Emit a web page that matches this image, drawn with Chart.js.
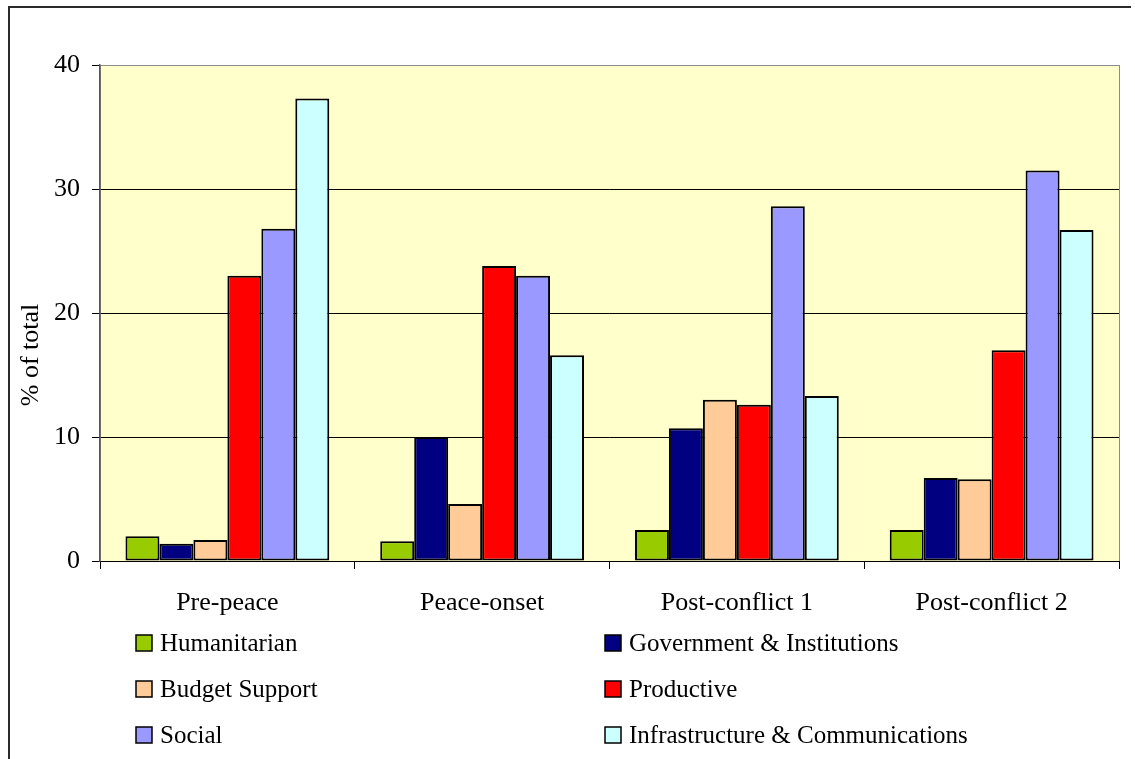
<!DOCTYPE html>
<html>
<head>
<meta charset="utf-8">
<script src="https://cdn.jsdelivr.net/npm/chart.js@4/dist/chart.umd.min.js"></script>
<style>
  body { margin: 0; background: #fff; }
  #wrap { width: 1135px; height: 759px; }
</style>
</head>
<body>
<div id="wrap"><canvas id="myChart" width="1135" height="759"></canvas></div>
<script>
const categories = ["Pre-peace", "Peace-onset", "Post-conflict 1", "Post-conflict 2"];
const humanitarian = [2.0, 1.6, 2.5, 2.5];
const government = [1.4, 10.0, 10.7, 6.7];
const budgetSupport = [1.7, 4.6, 13.0, 6.6];
const productive = [23.0, 23.8, 12.6, 17.0];
const social = [26.8, 23.0, 28.6, 31.5];
const infrastructure = [37.3, 16.6, 13.3, 26.7];
const yTicks = [0, 10, 20, 30, 40];

const serif = "'Liberation Serif', 'Times New Roman', serif";

function series(label, data, color) {
  return {
    label: label,
    data: data,
    backgroundColor: color,
    borderColor: "#000",
    borderWidth: 2,
    borderSkipped: false,
  };
}

// plot background, outer frame, y title and two-column legend
const decor = {
  id: "decor",
  beforeDraw(chart) {
    const { ctx, chartArea: a } = chart;
    ctx.save();
    ctx.fillStyle = "#FFFFCC";
    ctx.fillRect(a.left, a.top, a.right - a.left, a.bottom - a.top);
    ctx.strokeStyle = "#8c8c8c";
    ctx.lineWidth = 1;
    ctx.strokeRect(a.left + 0.5, a.top + 0.5, a.right - a.left, a.bottom - a.top);
    ctx.restore();
  },
  afterDraw(chart) {
    const { ctx } = chart;
    ctx.save();
    ctx.strokeStyle = "#2a2a2a";
    ctx.lineWidth = 2;
    ctx.beginPath();
    ctx.moveTo(9, 759);
    ctx.lineTo(9, 7);
    ctx.lineTo(1131, 7);
    ctx.stroke();

    ctx.fillStyle = "#000";
    ctx.font = "26px " + serif;
    ctx.textAlign = "center";
    ctx.textBaseline = "middle";
    ctx.translate(31, 355);
    ctx.rotate(-Math.PI / 2);
    ctx.fillText("% of total", 0, 0);
    ctx.restore();

    ctx.save();
    ctx.font = "25px " + serif;
    ctx.textBaseline = "middle";
    ctx.textAlign = "left";
    const colX = [136, 605];
    const rowY = [643, 689, 735];
    chart.data.datasets.forEach((ds, i) => {
      const x = colX[i % 2];
      const y = rowY[Math.floor(i / 2)];
      ctx.fillStyle = ds.backgroundColor;
      ctx.fillRect(x, y - 8, 16, 16);
      ctx.strokeStyle = "#000";
      ctx.lineWidth = 1.5;
      ctx.strokeRect(x, y - 8, 16, 16);
      ctx.fillStyle = "#000";
      ctx.fillText(ds.label, x + 24, y + 1);
    });
    ctx.restore();
  },
};

const ctx = document.getElementById("myChart").getContext("2d");
new Chart(ctx, {
  type: "bar",
  data: {
    labels: categories,
    datasets: [
      series("Humanitarian", humanitarian, "#99CC00"),
      series("Government & Institutions", government, "#000080"),
      series("Budget Support", budgetSupport, "#FFCC99"),
      series("Productive", productive, "#FF0000"),
      series("Social", social, "#9999FF"),
      series("Infrastructure & Communications", infrastructure, "#CCFFFF"),
    ],
  },
  options: {
    responsive: false,
    animation: false,
    events: [],
    categoryPercentage: 0.8,
    barPercentage: 1.0,
    layout: {
      padding: { top: 65, right: 16, left: 0, bottom: 138 },
    },
    plugins: {
      legend: { display: false },
      tooltip: { enabled: false },
    },
    scales: {
      x: {
        afterFit: (scale) => { scale.height = 60; },
        border: { color: "#000", width: 1 },
        grid: {
          offset: true,
          drawOnChartArea: false,
          tickLength: 8,
          color: "#000",
        },
        ticks: {
          padding: 19,
          color: "#000",
          font: { family: serif, size: 26 },
        },
      },
      y: {
        min: 0,
        max: 40,
        afterFit: (scale) => { scale.width = 100; },
        afterBuildTicks: (scale) => {
          scale.ticks = yTicks.map((v) => ({ value: v }));
        },
        border: { color: "#555", width: 1.5 },
        grid: {
          color: (c) => (c.tick && c.tick.value === 40 ? "#8c8c8c" : "#000"),
          tickColor: "#000",
          tickLength: 8,
          lineWidth: 1,
        },
        ticks: {
          padding: 12,
          color: "#000",
          font: { family: serif, size: 26 },
        },
      },
    },
  },
  plugins: [decor],
});
</script>
</body>
</html>
